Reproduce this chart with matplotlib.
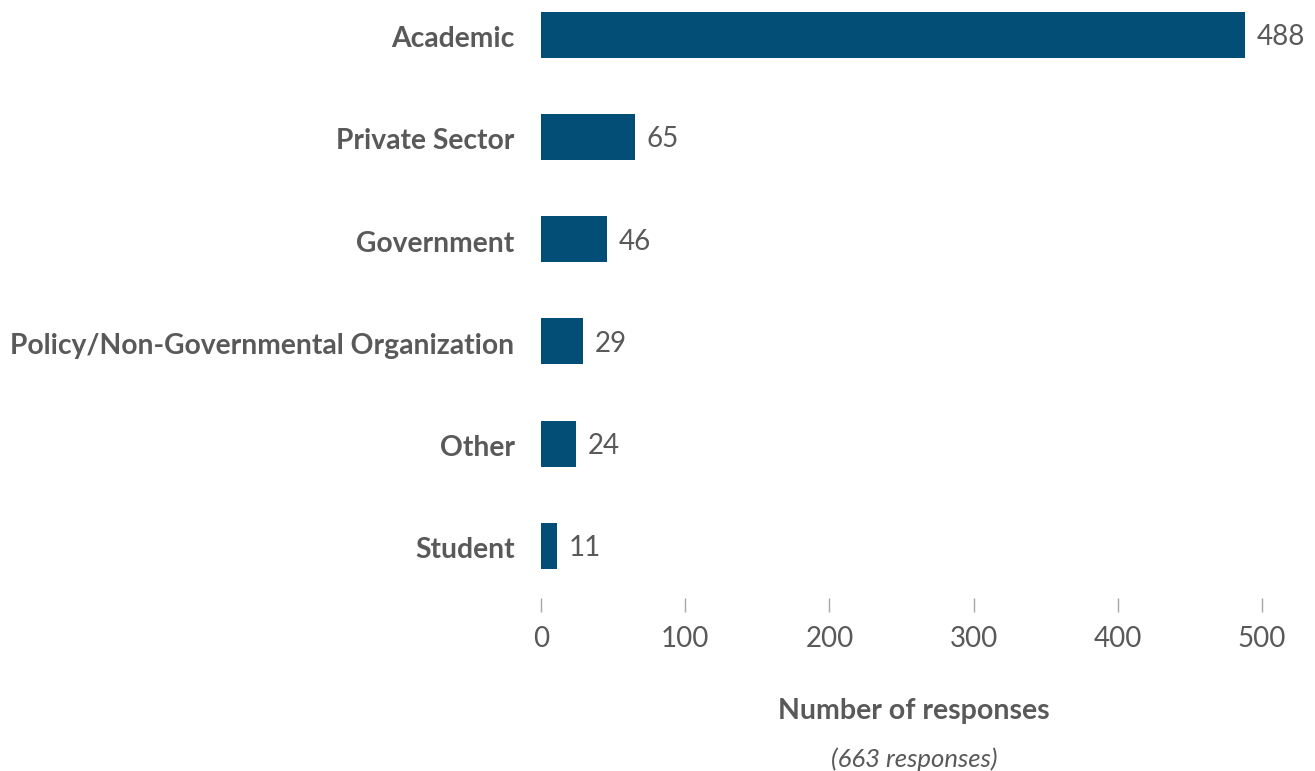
import matplotlib.pyplot as plt
from matplotlib.transforms import ScaledTranslation

categories = ['Academic', 'Private Sector', 'Government',
              'Policy/Non-Governmental Organization', 'Other', 'Student']
responses = [488, 65, 46, 29, 24, 11]
xticks = [0, 100, 200, 300, 400, 500]

bar_color = '#034e77'
text_color = '#595959'

plt.rcParams['font.family'] = ['Lato', 'DejaVu Sans']

fig = plt.figure(figsize=(13.15, 7.71), dpi=100)
ax = fig.add_axes([541 / 1315, (771 - 598) / 771, (1262 - 541) / 1315, 598 / 771])

ypos = list(range(len(categories)))
bars = ax.barh(ypos, responses, height=0.45, color=bar_color)
ax.set_xlim(0, 500)
ax.set_ylim(5.51, -0.34)

ax.set_yticks(ypos)
ax.set_yticklabels(categories, fontsize=20.3, fontweight='bold', color=text_color,
                   va='center_baseline')
ax.tick_params(axis='y', length=0, pad=19)
# nudge category labels down slightly
shift = ScaledTranslation(0, -2 / 100, fig.dpi_scale_trans)
for lbl in ax.get_yticklabels():
    lbl.set_transform(lbl.get_transform() + shift)

ax.set_xticks(xticks)
ax.set_xticklabels([str(t) for t in xticks], fontsize=20, color=text_color)
ax.tick_params(axis='x', length=10, width=1, color='#a6a6a6', pad=10)

for s in ax.spines.values():
    s.set_visible(False)

for b, v in zip(bars, responses):
    ax.annotate(str(v), (b.get_width(), b.get_y() + b.get_height() / 2),
                xytext=(8.5, 0), textcoords='offset points', va='center_baseline', ha='left',
                fontsize=20, color=text_color, annotation_clip=False)

fig.text(914 / 1315, 1 - 711 / 771, 'Number of responses', ha='center', va='center',
         fontsize=20.5, fontweight='bold', color=text_color)
fig.text(914 / 1315, 1 - 759 / 771, '(663 responses)', ha='center', va='center',
         fontsize=18.5, style='italic', color=text_color)

fig.savefig('out.png', dpi=100)
